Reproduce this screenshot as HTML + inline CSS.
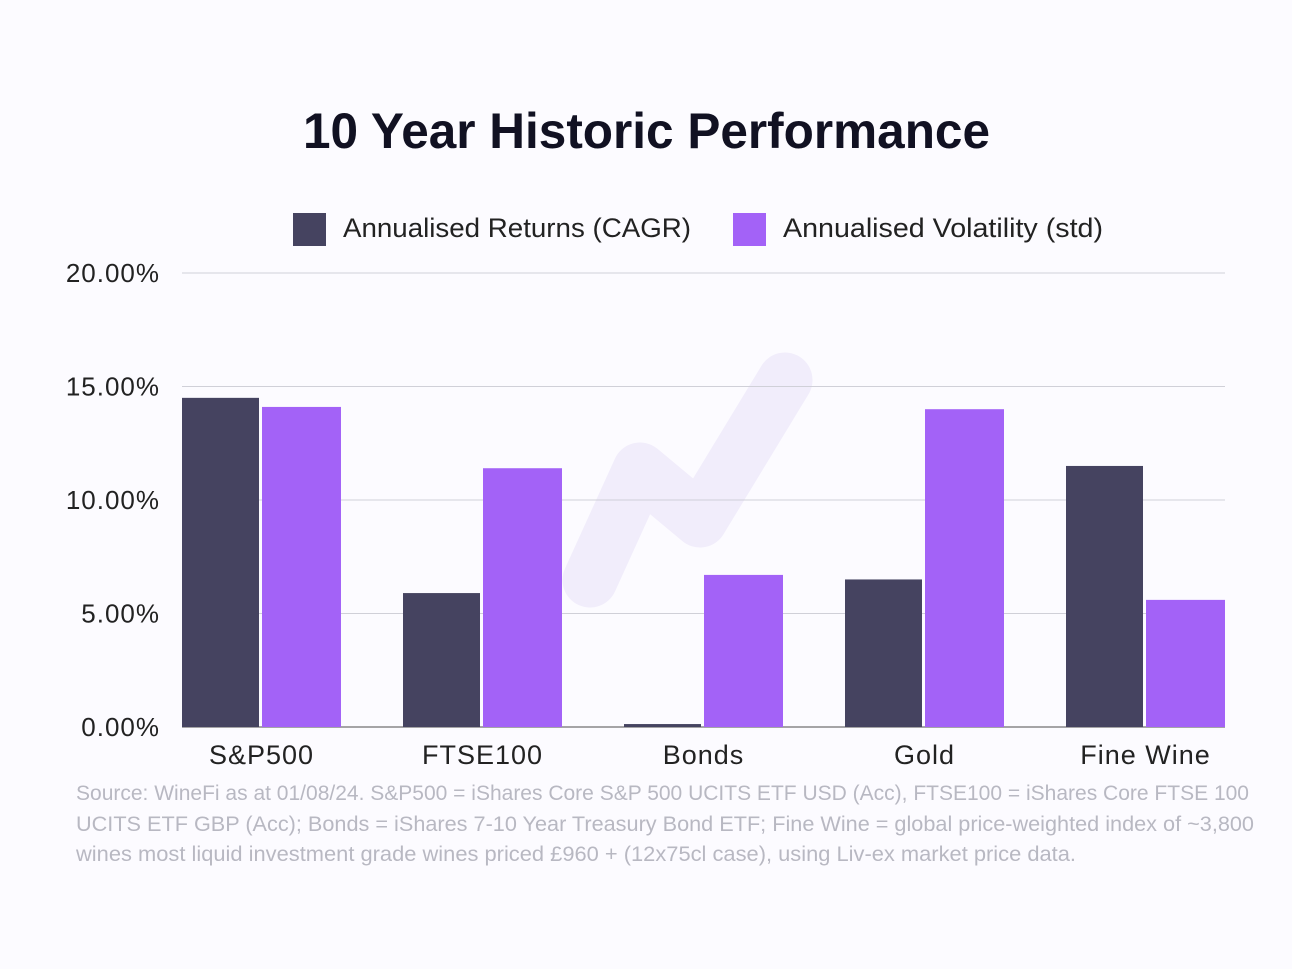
<!DOCTYPE html>
<html><head><meta charset="utf-8"><style>
body{margin:0;background:#fcfbff;font-family:"Liberation Sans",sans-serif;}
#c{position:relative;width:1292px;height:969px;overflow:hidden;background:#fcfbff;}
</style></head><body>
<div id="c">
<svg id="s" width="1292" height="969">
<path d="M590 580 L640 470 L700 520 L785 380" stroke="#f1edfb" stroke-width="55" fill="none" stroke-linecap="round" stroke-linejoin="round"/>
<text x="303" y="148" textLength="687" lengthAdjust="spacingAndGlyphs" font-size="50" font-weight="bold" fill="#111122">10 Year Historic Performance</text>
<rect x="293" y="213" width="33" height="33" fill="#454360"/>
<text x="343" y="237" textLength="348" lengthAdjust="spacingAndGlyphs" font-size="27" fill="#222">Annualised Returns (CAGR)</text>
<rect x="733" y="213" width="33" height="33" fill="#a362f7"/>
<text x="783" y="237" textLength="320" lengthAdjust="spacingAndGlyphs" font-size="27" fill="#222">Annualised Volatility (std)</text>
<g id="grid"></g><g id="bars"></g><g id="labels"></g>
<text x="76" y="800" textLength="1173" lengthAdjust="spacingAndGlyphs" font-size="21" fill="#b8b8c2">Source: WineFi as at 01/08/24. S&amp;P500 = iShares Core S&amp;P 500 UCITS ETF USD (Acc), FTSE100 = iShares Core FTSE 100</text>
<text x="76" y="831" textLength="1178" lengthAdjust="spacingAndGlyphs" font-size="21" fill="#b8b8c2">UCITS ETF GBP (Acc);  Bonds = iShares 7-10 Year Treasury Bond ETF; Fine Wine = global price-weighted index of ~3,800</text>
<text x="76" y="861" textLength="1000" lengthAdjust="spacingAndGlyphs" font-size="21" fill="#b8b8c2">wines most liquid investment grade wines priced £960 + (12x75cl case), using Liv-ex market price data.</text>
</svg></div>
<script>
const categories=["S&P500","FTSE100","Bonds","Gold","Fine Wine"];
const returns=[14.5,5.9,0.13,6.5,11.5];
const volatility=[14.1,11.4,6.7,14.0,5.6];
const ticks=[0,5,10,15,20];
const tickLabels=["0.00%","5.00%","10.00%","15.00%","20.00%"];
const NS="http://www.w3.org/2000/svg";
const y=v=>727-v*22.7;
const cx=i=>261.5+221*i;
function mk(t,a,p){const e=document.createElementNS(NS,t);for(const k in a)e.setAttribute(k,a[k]);document.getElementById(p).appendChild(e);return e;}
ticks.forEach((t,i)=>{
 const l=mk('line',{x1:182,x2:1225,y1:y(t),y2:y(t),stroke:t==0?'#888':'#d0d0d8','stroke-width':t==0?1.5:1},'grid');
 
 
 const tx=mk('text',{x:160,y:y(t)+9,'text-anchor':'end','font-size':26,fill:'#222','letter-spacing':1},'labels');
 tx.textContent=tickLabels[i];
 
 
});
categories.forEach((c,i)=>{
 const r=mk('rect',{x:cx(i)-79.5,y:y(returns[i]),width:77,height:y(0)-y(returns[i]),fill:'#454360'},'bars');
 
 
 const v=mk('rect',{x:cx(i)+0.5,y:y(volatility[i]),width:79,height:y(0)-y(volatility[i]),fill:'#a362f7'},'bars');
 
 
 const t=mk('text',{x:cx(i),y:764,'text-anchor':'middle','font-size':27,fill:'#222','letter-spacing':1},'labels');
 t.textContent=c;
 
 
});
</script></body></html>
